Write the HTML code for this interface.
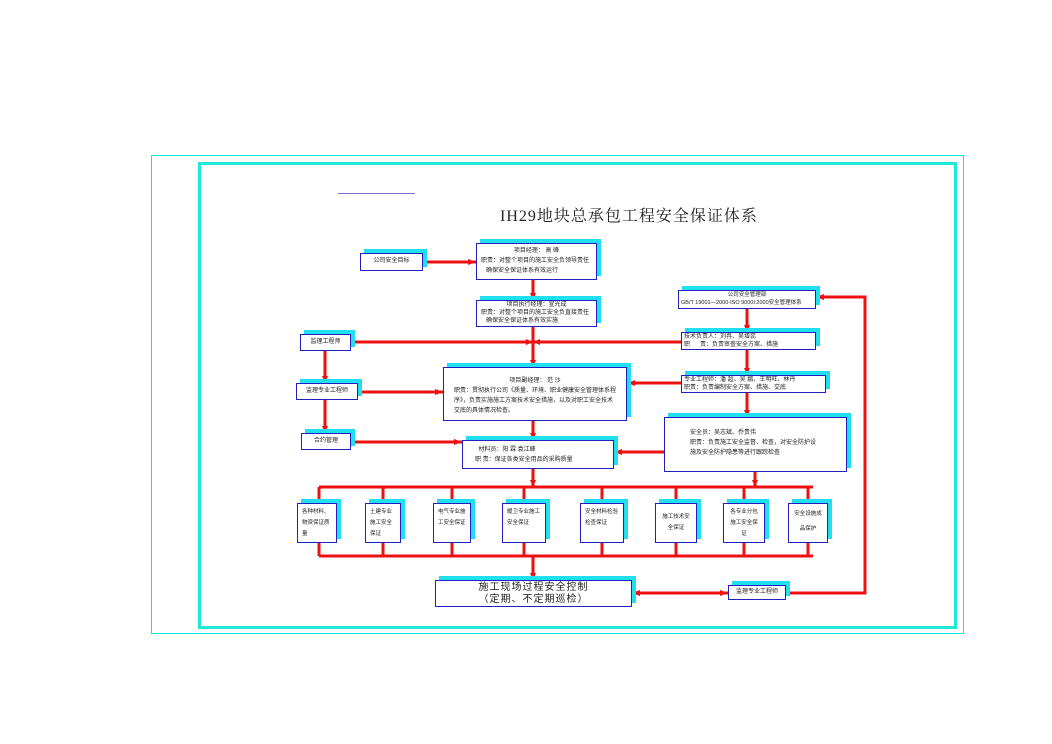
<!DOCTYPE html>
<html><head><meta charset="utf-8"><style>
body{margin:0;width:1052px;height:744px;background:#fff;position:relative;overflow:hidden;font-family:"Liberation Sans","Noto Sans CJK SC",sans-serif;}
.b{position:absolute;border:1.5px solid #2020c0;background:#fff;box-shadow:4px -4px 0 #20e0f0;font-size:6px;line-height:10px;color:#222;box-sizing:border-box;}
.c{text-align:center;}
.s{font-size:5.5px;padding-left:4px;padding-right:4px;}
svg{position:absolute;left:0;top:0;}
</style></head><body>
<div style="position:absolute;left:151px;top:155px;width:811px;height:477px;border:1px solid #00e8e8;"></div>
<div style="position:absolute;left:198px;top:162px;width:753px;height:461px;border:3px solid #20e8d8;"></div>
<div style="position:absolute;left:338px;top:193px;width:77px;height:1px;background:#7070d0;"></div>
<div style="position:absolute;left:500px;top:203px;font-size:16px;color:#222;letter-spacing:1px;font-family:'Liberation Serif','Noto Serif CJK SC',serif;">IH29地块总承包工程安全保证体系</div>
<svg width="1052" height="744">
<g stroke="#ee1111" stroke-width="3" fill="none">
<line x1="423" y1="262" x2="476" y2="262"/>
<line x1="533" y1="280" x2="533" y2="300"/>
<line x1="533" y1="327" x2="533" y2="367"/>
<line x1="351" y1="342" x2="681" y2="342"/>
<line x1="325" y1="350" x2="325" y2="383"/>
<line x1="325" y1="400" x2="325" y2="433"/>
<line x1="358" y1="392" x2="443" y2="392"/>
<line x1="627" y1="383" x2="681" y2="383"/>
<line x1="533" y1="421" x2="533" y2="440"/>
<line x1="351" y1="442" x2="462" y2="442"/>
<line x1="614" y1="452" x2="664" y2="452"/>
<line x1="747" y1="309" x2="747" y2="332"/>
<line x1="747" y1="350" x2="747" y2="375"/>
<line x1="747" y1="393" x2="747" y2="417"/>
<line x1="533" y1="469" x2="533" y2="487"/>
<line x1="755" y1="472" x2="755" y2="487"/>
<line x1="319" y1="487" x2="813" y2="487"/>
<line x1="319" y1="556" x2="813" y2="556"/>
<line x1="319" y1="487" x2="319" y2="556"/><line x1="383" y1="487" x2="383" y2="556"/><line x1="452" y1="487" x2="452" y2="556"/><line x1="524" y1="487" x2="524" y2="556"/><line x1="602" y1="487" x2="602" y2="556"/><line x1="676" y1="487" x2="676" y2="556"/><line x1="744" y1="487" x2="744" y2="556"/><line x1="808" y1="487" x2="808" y2="556"/>
<line x1="533" y1="556" x2="533" y2="580"/>
<line x1="632" y1="593" x2="728" y2="593"/>
<polyline points="786,593 865,593 865,297 816,297"/>
</g>
<g fill="#ee1111">
<polygon points="476,262 468,259 468,265"/>
<polygon points="533,300 530,293 536,293"/><polygon points="533,367 530,360 536,360"/>
<polygon points="533,342 526,339 526,345"/><polygon points="533,342 540,339 540,345"/>
<polygon points="325,383 322,376 328,376"/><polygon points="325,433 322,426 328,426"/>
<polygon points="443,392 435,389 435,395"/><polygon points="627,383 635,380 635,386"/>
<polygon points="533,440 530,433 536,433"/><polygon points="462,442 454,439 454,445"/>
<polygon points="614,452 622,449 622,455"/>
<polygon points="747,332 744,325 750,325"/><polygon points="747,375 744,368 750,368"/><polygon points="747,417 744,410 750,410"/>
<polygon points="533,487 530,480 536,480"/><polygon points="755,487 752,480 758,480"/>
<polygon points="533,580 530,573 536,573"/><polygon points="632,593 640,590 640,596"/>
<polygon points="728,593 720,590 720,596"/><polygon points="816,297 824,294 824,300"/>
</g>
</svg>
<div class="b c" style="left:360px;top:253px;width:63px;height:18px;line-height:15px;">公司安全目标</div>
<div class="b" style="left:476px;top:243px;width:121px;height:37px;padding:2px 4px;line-height:10px;"><div class="c">项目经理：&nbsp;高 峰</div>职责：对整个项目的施工安全负领导责任<br>&nbsp;&nbsp;&nbsp;确保安全保证体系有效运行</div>
<div class="b" style="left:476px;top:300px;width:121px;height:27px;padding:0 4px;line-height:8px;"><div class="c">项目执行经理：宣光成</div>职责：对整个项目的施工安全负直接责任<br>&nbsp;&nbsp;&nbsp;确保安全保证体系有效实施</div>
<div class="b c" style="left:300px;top:334px;width:51px;height:17px;line-height:14px;">监理工程师</div>
<div class="b" style="left:443px;top:367px;width:184px;height:54px;padding:8px 10px;line-height:10px;"><div class="c">项目副经理：&nbsp;范 沙</div>职责：贯彻执行公司《质量、环境、职业健康安全管理体系程序》，负责实施施工方案技术安全措施，以及对职工安全技术交底的具体情况检查。</div>
<div class="b c" style="left:296px;top:383px;width:62px;height:17px;line-height:14px;">监理专业工程师</div>
<div class="b c" style="left:301px;top:433px;width:50px;height:17px;line-height:14px;">合约管理</div>
<div class="b" style="left:462px;top:440px;width:152px;height:29px;padding:4px 12px;line-height:10px;">&nbsp;&nbsp;材料员：阳 霖 袁江峰<br>职 责：保证各类安全用品的采购质量</div>
<div class="b" style="left:678px;top:290px;width:138px;height:19px;padding:0 2px;line-height:8px;font-size:5.5px;"><div class="c">公司安全管理部</div>GB/T 19001—2000-ISO 9000I:2000安全管理体系</div>
<div class="b" style="left:681px;top:332px;width:135px;height:18px;padding:0 2px;line-height:8px;">技术负责人：刘冉、吴增蕊<br>职&nbsp;&nbsp;&nbsp;&nbsp;&nbsp;&nbsp;责：负责审查安全方案、措施</div>
<div class="b" style="left:681px;top:375px;width:145px;height:18px;padding:0 2px;line-height:8px;">专业工程师：潘 超、吴 鹏、王明旺、林丹<br>职责：负责编制安全方案、措施、交底</div>
<div class="b" style="left:664px;top:417px;width:183px;height:55px;padding:10px 25px;line-height:10px;">安全员：吴志斌、乔贵伟<br>职责：负责施工安全监督、检查，对安全防护设施及安全防护隐患等进行跟踪检查</div>
<div class="b s" style="left:297px;top:503px;width:40px;height:40px;padding-top:3px;line-height:11px;">各种材料、物资保证质量</div>
<div class="b s" style="left:365px;top:503px;width:36px;height:40px;padding-top:3px;line-height:11px;">土建专业施工安全保证</div>
<div class="b s" style="left:433px;top:503px;width:38px;height:40px;padding-top:3px;line-height:11px;">电气专业施工安全保证</div>
<div class="b s" style="left:502px;top:503px;width:44px;height:40px;padding-top:3px;line-height:11px;">暖卫专业施工安全保证</div>
<div class="b s" style="left:580px;top:503px;width:44px;height:40px;padding-top:3px;line-height:11px;">安全材料检验检查保证</div>
<div class="b s c" style="left:655px;top:503px;width:42px;height:40px;padding-top:8px;line-height:11px;">施工技术安全保证</div>
<div class="b s c" style="left:723px;top:503px;width:42px;height:40px;padding-top:3px;line-height:11px;">各专业分包施工安全保证</div>
<div class="b s c" style="left:788px;top:503px;width:40px;height:40px;padding-top:3px;line-height:15px;">安全设施成品保护</div>
<div class="b c" style="left:435px;top:580px;width:197px;height:27px;font-size:10px;line-height:12px;padding-top:1px;letter-spacing:1px;">施工现场过程安全控制<br>（定期、不定期巡检）</div>
<div class="b c" style="left:728px;top:585px;width:58px;height:15px;line-height:12px;">监理专业工程师</div>
</body></html>
